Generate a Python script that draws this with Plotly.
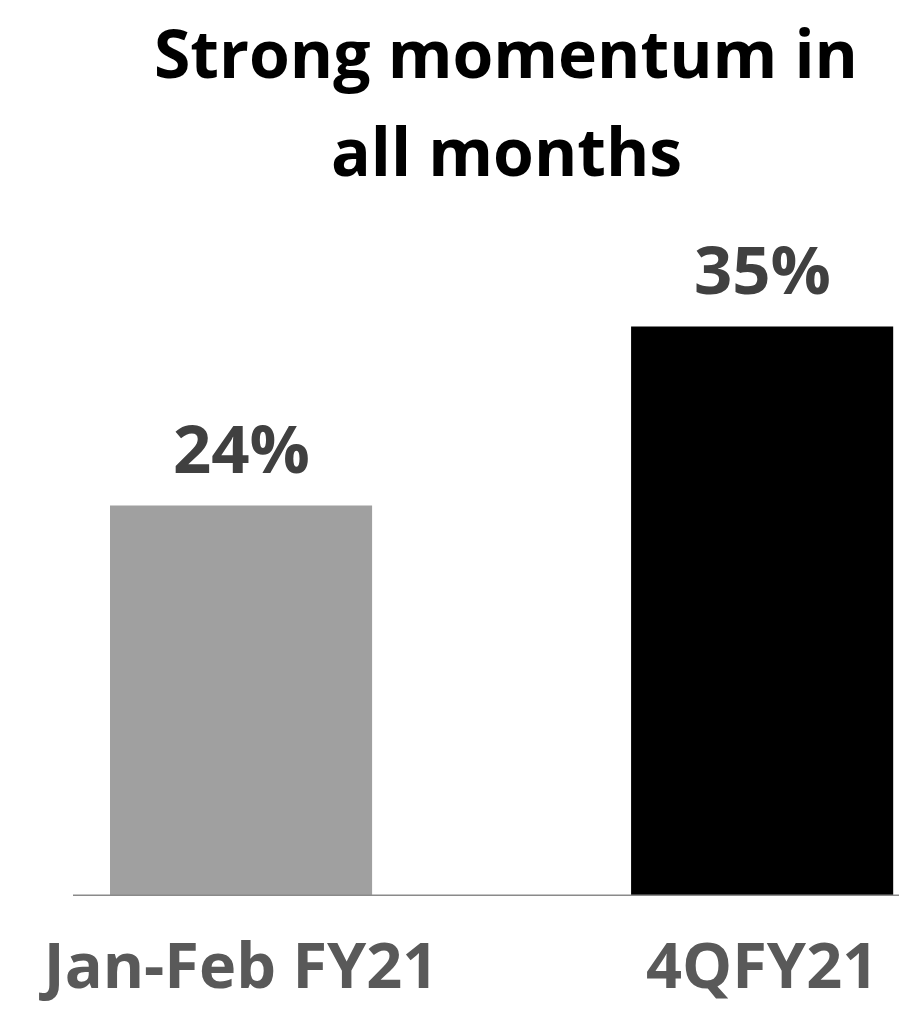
import plotly.graph_objects as go

categories = ["Jan-Feb FY21", "4QFY21"]
values = [24, 35]
value_labels = ["24%", "35%"]
bar_colors = ["#a0a0a0", "#000000"]
title_lines = ["Strong momentum in", "all months"]

FONT = "Open Sans"
PLOT_TOP, PLOT_BOTTOM = 172, 888  # figure pixels (page adds 8px body margin)
PH = PLOT_BOTTOM - PLOT_TOP

def py(pix):
    return (PLOT_BOTTOM - pix) / PH

fig = go.Figure()
fig.add_trace(go.Bar(
    x=categories, y=values,
    marker=dict(color=bar_colors, line=dict(width=0)),
    width=0.503,
    hoverinfo="skip",
))

for c, v, t in zip(categories, values, value_labels):
    fig.add_annotation(
        x=c, y=v, text=t, showarrow=False, yanchor="bottom", yshift=10,
        font=dict(family=FONT, size=67, color="#404040", weight="bold"),
    )

for line, ypix in zip(title_lines, [44, 142]):
    fig.add_annotation(
        xref="paper", yref="paper", x=(498 - 65) / 834, y=py(ypix),
        xanchor="center", yanchor="middle", text=line, showarrow=False,
        font=dict(family=FONT, size=66, color="#000000", weight="bold"),
    )

fig.update_layout(
    width=907, height=1010,
    margin=dict(l=65, r=8, t=PLOT_TOP, b=1010 - PLOT_BOTTOM, autoexpand=False),
    plot_bgcolor="white", paper_bgcolor="white",
    showlegend=False,
    xaxis=dict(
        range=[-0.3225, 1.278], showgrid=False, zeroline=False,
        showline=False, ticks="", automargin=False,
        tickfont=dict(family=FONT, size=63, color="#595959", weight="bold"),
        ticklabelstandoff=28,
    ),
    yaxis=dict(
        range=[0, 44], visible=False, showgrid=False, zeroline=False,
        automargin=False,
    ),
    shapes=[dict(type="line", xref="paper", yref="y", x0=0, x1=1, y0=0, y1=0,
                 line=dict(color="#8a8a8a", width=3))],
)

fig.write_html("out.html")
